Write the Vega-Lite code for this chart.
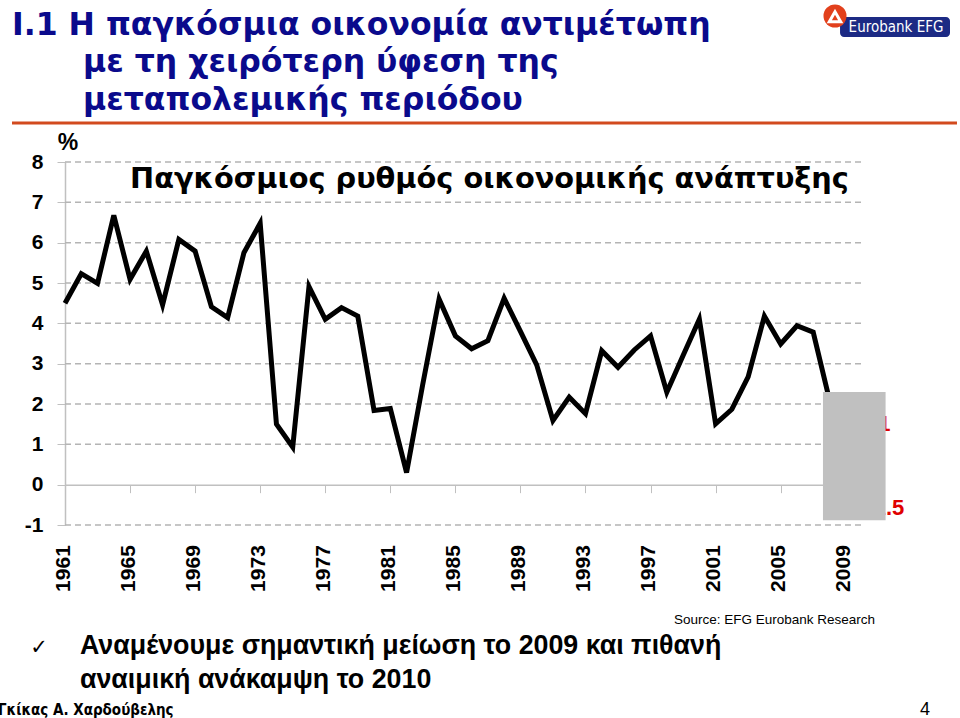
{
  "$schema": "https://vega.github.io/schema/vega-lite/v6.json",
  "autosize": "none",
  "width": 797,
  "height": 363,
  "padding": {"left": 65, "top": 162, "right": 98, "bottom": 193},
  "background": "white",
  "config": {
    "view": {"stroke": null},
    "font": "Liberation Sans"
  },
  "resolve": {"axis": {"x": "independent", "y": "independent"}},
  "layer": [
    {
      "data": {"values": [
        {"level": -1}, {"level": 1}, {"level": 2}, {"level": 3}, {"level": 4},
        {"level": 5}, {"level": 6}, {"level": 7}, {"level": 8}
      ]},
      "mark": {"type": "rule", "color": "#b4b4b4", "strokeWidth": 1.5, "strokeDash": [6, 4], "opacity": 1},
      "encoding": {
        "x": {"datum": 1961, "type": "quantitative", "scale": {"domain": [1961, 2010], "nice": false, "zero": false}, "axis": null},
        "x2": {"datum": 2010},
        "y": {"field": "level", "type": "quantitative", "scale": {"domain": [-1, 8], "nice": false, "zero": false}, "axis": null}
      }
    },
    {
      "data": {"values": [
        {"year": 1961, "growth": 4.50}, {"year": 1962, "growth": 5.23}, {"year": 1963, "growth": 4.99},
        {"year": 1964, "growth": 6.68}, {"year": 1965, "growth": 5.09}, {"year": 1966, "growth": 5.79},
        {"year": 1967, "growth": 4.46}, {"year": 1968, "growth": 6.08}, {"year": 1969, "growth": 5.79},
        {"year": 1970, "growth": 4.41}, {"year": 1971, "growth": 4.14}, {"year": 1972, "growth": 5.75},
        {"year": 1973, "growth": 6.48}, {"year": 1974, "growth": 1.50}, {"year": 1975, "growth": 0.93},
        {"year": 1976, "growth": 4.91}, {"year": 1977, "growth": 4.10}, {"year": 1978, "growth": 4.39},
        {"year": 1979, "growth": 4.18}, {"year": 1980, "growth": 1.84}, {"year": 1981, "growth": 1.89},
        {"year": 1982, "growth": 0.30}, {"year": 1983, "growth": 2.50}, {"year": 1984, "growth": 4.60},
        {"year": 1985, "growth": 3.69}, {"year": 1986, "growth": 3.37}, {"year": 1987, "growth": 3.57},
        {"year": 1988, "growth": 4.62}, {"year": 1989, "growth": 3.80}, {"year": 1990, "growth": 2.97},
        {"year": 1991, "growth": 1.59}, {"year": 1992, "growth": 2.17}, {"year": 1993, "growth": 1.76},
        {"year": 1994, "growth": 3.32}, {"year": 1995, "growth": 2.91}, {"year": 1996, "growth": 3.34},
        {"year": 1997, "growth": 3.69}, {"year": 1998, "growth": 2.29}, {"year": 1999, "growth": 3.20},
        {"year": 2000, "growth": 4.10}, {"year": 2001, "growth": 1.51}, {"year": 2002, "growth": 1.87},
        {"year": 2003, "growth": 2.67}, {"year": 2004, "growth": 4.18}, {"year": 2005, "growth": 3.49},
        {"year": 2006, "growth": 3.94}, {"year": 2007, "growth": 3.78}, {"year": 2008, "growth": 2.10},
        {"year": 2009, "growth": -0.40}, {"year": 2010, "growth": 1.00}
      ]},
      "mark": {"type": "line", "color": "black", "strokeWidth": 5, "strokeJoin": "miter"},
      "encoding": {
        "x": {"field": "year", "type": "quantitative",
          "scale": {"domain": [1961, 2010], "nice": false, "zero": false},
          "axis": {"values": [1961, 1965, 1969, 1973, 1977, 1981, 1985, 1989, 1993, 1997, 2001, 2005, 2009],
            "format": "d", "labelAngle": -90, "labelFont": "Liberation Sans", "labelFontWeight": "bold",
            "labelFontSize": 21, "labelColor": "black", "labelPadding": 52, "labelOffset": -2,
            "offset": -40.33, "grid": false, "domainColor": "#c0c0c0", "domainWidth": 1.5,
            "tickColor": "#c0c0c0", "tickSize": 8, "title": null, "labelFlush": false, "labelOverlap": false}},
        "y": {"field": "growth", "type": "quantitative",
          "scale": {"domain": [-1, 8], "nice": false, "zero": false},
          "axis": {"values": [-1, 0, 1, 2, 3, 4, 5, 6, 7, 8], "tickCount": 12,
            "labelExpr": "datum.value < 0 ? '-' + (-datum.value) : '' + datum.value",
            "labelFont": "Liberation Sans", "labelFontWeight": "bold", "labelFontSize": 21,
            "labelColor": "black", "labelPadding": 14, "grid": false, "domainColor": "#c0c0c0", "domainWidth": 1.5, "tickColor": "#c0c0c0",
            "tickSize": 8, "title": null, "labelFlush": false, "labelOverlap": false}}
      }
    },
    {
      "data": {"values": [{}]},
      "mark": {"type": "text", "text": "1", "color": "#e00000", "font": "Liberation Sans", "fontWeight": "bold", "fontSize": 22, "align": "left", "baseline": "alphabetic"},
      "encoding": {
        "x": {"datum": 2011.0, "type": "quantitative", "axis": null},
        "y": {"datum": 1.32, "type": "quantitative", "axis": null}
      }
    },
    {
      "data": {"values": [{}]},
      "mark": {"type": "text", "text": "-1.5", "color": "#e00000", "font": "Liberation Sans", "fontWeight": "bold", "fontSize": 22, "align": "right", "baseline": "alphabetic"},
      "encoding": {
        "x": {"datum": 2012.6, "type": "quantitative", "axis": null},
        "y": {"datum": -0.76, "type": "quantitative", "axis": null}
      }
    },
    {
      "data": {"values": [{}]},
      "mark": {"type": "rect", "color": "#c0c0c0"},
      "encoding": {
        "x": {"datum": 2007.6, "type": "quantitative", "axis": null},
        "x2": {"datum": 2011.45},
        "y": {"datum": 2.3, "type": "quantitative", "axis": null},
        "y2": {"datum": -0.885}
      }
    },
    {
      "data": {"values": [{}]},
      "mark": {"type": "rule", "color": "#d24a1e", "strokeWidth": 3},
      "encoding": {
        "x": {"datum": 1957.742, "type": "quantitative", "axis": null},
        "x2": {"datum": 2015.84},
        "y": {"datum": 8.967, "type": "quantitative", "axis": null}
      }
    },
    {
      "data": {"values": [{}]},
      "mark": {"type": "text", "text": "I.1 Η παγκόσμια οικονομία αντιμέτωπη", "color": "#0a0a8c", "font": "DejaVu Sans", "fontWeight": "bold", "fontSize": 31.5, "align": "left", "baseline": "alphabetic"},
      "encoding": {
        "x": {"datum": 1957.742, "type": "quantitative", "axis": null},
        "y": {"datum": 11.149, "type": "quantitative", "axis": null}
      }
    },
    {
      "data": {"values": [{}]},
      "mark": {"type": "text", "text": "με τη χειρότερη ύφεση της", "color": "#0a0a8c", "font": "DejaVu Sans", "fontWeight": "bold", "fontSize": 31.5, "align": "left", "baseline": "alphabetic"},
      "encoding": {
        "x": {"datum": 1962.107, "type": "quantitative", "axis": null},
        "y": {"datum": 10.232, "type": "quantitative", "axis": null}
      }
    },
    {
      "data": {"values": [{}]},
      "mark": {"type": "text", "text": "μεταπολεμικής περιόδου", "color": "#0a0a8c", "font": "DejaVu Sans", "fontWeight": "bold", "fontSize": 31.5, "align": "left", "baseline": "alphabetic"},
      "encoding": {
        "x": {"datum": 1962.107, "type": "quantitative", "axis": null},
        "y": {"datum": 9.289, "type": "quantitative", "axis": null}
      }
    },
    {
      "data": {"values": [{}]},
      "mark": {"type": "text", "text": "%", "color": "black", "font": "Liberation Sans", "fontWeight": "bold", "fontSize": 23, "align": "center", "baseline": "alphabetic"},
      "encoding": {
        "x": {"datum": 1961.18, "type": "quantitative", "axis": null},
        "y": {"datum": 8.298, "type": "quantitative", "axis": null}
      }
    },
    {
      "data": {"values": [{}]},
      "mark": {"type": "text", "text": "Παγκόσμιος ρυθμός οικονομικής ανάπτυξης", "color": "black", "font": "DejaVu Sans", "fontWeight": "bold", "fontSize": 28.8, "align": "left", "baseline": "alphabetic"},
      "encoding": {
        "x": {"datum": 1965.0, "type": "quantitative", "axis": null},
        "y": {"datum": 7.355, "type": "quantitative", "axis": null}
      }
    },
    {
      "data": {"values": [{}]},
      "mark": {"type": "text", "text": "Source: EFG Eurobank Research", "color": "black", "font": "Liberation Sans", "fontSize": 13.5, "align": "right", "baseline": "alphabetic"},
      "encoding": {
        "x": {"datum": 2010.8, "type": "quantitative", "axis": null},
        "y": {"datum": -3.455, "type": "quantitative", "axis": null}
      }
    },
    {
      "data": {"values": [{}]},
      "mark": {"type": "text", "text": "✓", "color": "black", "font": "DejaVu Sans", "fontSize": 21, "align": "center", "baseline": "alphabetic"},
      "encoding": {
        "x": {"datum": 1959.4, "type": "quantitative", "axis": null},
        "y": {"datum": -4.198, "type": "quantitative", "axis": null}
      }
    },
    {
      "data": {"values": [{}]},
      "mark": {"type": "text", "text": "Αναμένουμε σημαντική μείωση το 2009 και πιθανή", "color": "black", "font": "Liberation Sans", "fontWeight": "bold", "fontSize": 26.8, "align": "left", "baseline": "alphabetic"},
      "encoding": {
        "x": {"datum": 1961.922, "type": "quantitative", "axis": null},
        "y": {"datum": -4.198, "type": "quantitative", "axis": null}
      }
    },
    {
      "data": {"values": [{}]},
      "mark": {"type": "text", "text": "αναιμική ανάκαμψη το 2010", "color": "black", "font": "Liberation Sans", "fontWeight": "bold", "fontSize": 26.8, "align": "left", "baseline": "alphabetic"},
      "encoding": {
        "x": {"datum": 1961.922, "type": "quantitative", "axis": null},
        "y": {"datum": -5.041, "type": "quantitative", "axis": null}
      }
    },
    {
      "data": {"values": [{}]},
      "mark": {"type": "text", "text": "Γκίκας Α. Χαρδούβελης", "color": "black", "font": "DejaVu Sans Condensed", "fontWeight": "bold", "fontSize": 15, "align": "left", "baseline": "alphabetic"},
      "encoding": {
        "x": {"datum": 1956.88, "type": "quantitative", "axis": null},
        "y": {"datum": -5.70, "type": "quantitative", "axis": null}
      }
    },
    {
      "data": {"values": [{}]},
      "mark": {"type": "text", "text": "4", "color": "black", "font": "Liberation Sans", "fontSize": 18, "align": "center", "baseline": "alphabetic"},
      "encoding": {
        "x": {"datum": 2013.87, "type": "quantitative", "axis": null},
        "y": {"datum": -5.70, "type": "quantitative", "axis": null}
      }
    },
    {
      "data": {"values": [{}]},
      "mark": {"type": "rect", "color": "#1c2a84", "cornerRadius": 4},
      "encoding": {
        "x": {"datum": 2008.65, "type": "quantitative", "axis": null},
        "x2": {"datum": 2015.41},
        "y": {"datum": 11.595, "type": "quantitative", "axis": null},
        "y2": {"datum": 11.099}
      }
    },
    {
      "data": {"values": [{}]},
      "mark": {"type": "text", "text": "Eurobank EFG", "color": "white", "font": "DejaVu Sans Condensed", "fontSize": 15, "align": "center", "baseline": "middle"},
      "encoding": {
        "x": {"datum": 2012.09, "type": "quantitative", "axis": null},
        "y": {"datum": 11.347, "type": "quantitative", "axis": null}
      }
    },
    {
      "data": {"values": [{}]},
      "mark": {"type": "point", "shape": "circle", "filled": true, "color": "#e2401c", "opacity": 1, "size": 530},
      "encoding": {
        "x": {"datum": 2008.34, "type": "quantitative", "axis": null},
        "y": {"datum": 11.62, "type": "quantitative", "axis": null}
      }
    },
    {
      "data": {"values": [{}]},
      "mark": {"type": "point", "shape": "triangle-up", "filled": false, "color": "white", "strokeWidth": 3, "opacity": 1, "size": 130},
      "encoding": {
        "x": {"datum": 2008.34, "type": "quantitative", "axis": null},
        "y": {"datum": 11.6, "type": "quantitative", "axis": null}
      }
    }
  ]
}
